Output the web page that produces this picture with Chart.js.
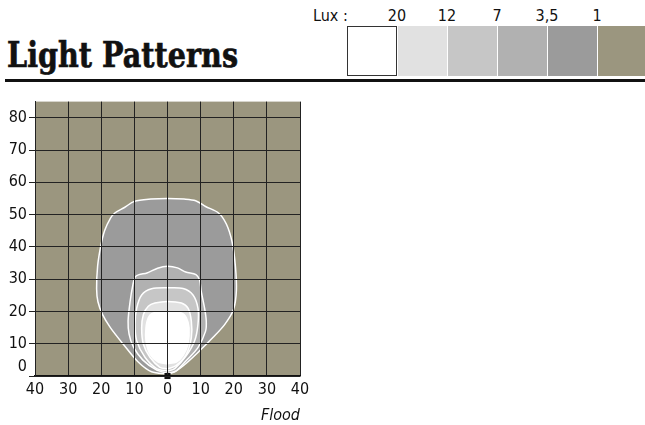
<!DOCTYPE html>
<html>
<head>
<meta charset="utf-8">
<title>Light Patterns</title>
<script src="https://cdn.jsdelivr.net/npm/chart.js@4.4.1/dist/chart.umd.min.js"></script>
<style>
  html, body { margin: 0; padding: 0; background: #fff; }
  body { width: 645px; height: 425px; position: relative; overflow: hidden;
         font-family: "DejaVu Sans Condensed", "DejaVu Sans", sans-serif; color: #111; }
  #titulo { position: absolute; left: 7px; top: 36px; font-family: "DejaVu Serif", serif;
            font-weight: bold; font-size: 36px; line-height: 36px; white-space: nowrap;
            transform-origin: 0 0; -webkit-text-stroke: 0.7px #111; }
  #regla { position: absolute; left: 5px; top: 79px; width: 640px; height: 3px; background: #111; }
  .txt { position: absolute; top: 8px; font-size: 16px; line-height: 16px; white-space: nowrap; }
  .valor { transform: translateX(-50%); }
  .caja { position: absolute; top: 26px; height: 50px; box-sizing: border-box; }
  #grafico { position: absolute; left: 0; top: 90px; width: 320px; height: 335px; }
</style>
</head>
<body>
<div id="titulo">Light Patterns</div>
<div id="leyenda"></div>
<div id="regla"></div>
<div id="grafico"><canvas id="lightChart"></canvas></div>

<script>
// Lux levels shown in the key, brightest first
const luxLabels = ['20', '12', '7', '3,5', '1'];
const luxColors = ['#ffffff', '#e1e1e1', '#c6c6c6', '#b1b1b1', '#9b9b9b'];
const groundColor = '#9b967f';

const xTicks = [-40, -30, -20, -10, 0, 10, 20, 30, 40];
const xTickLabels = ['40', '30', '20', '10', '0', '10', '20', '30', '40'];
const yTicks = [0, 10, 20, 30, 40, 50, 60, 70, 80];
const yTickLabels = ['0', '10', '20', '30', '40', '50', '60', '70', '80'];

// Iso-lux outlines as [x, y] in metres, lamp at (0, 0)
const lux1 = [
  [0, 0.6], [-4.8, 1.3], [-9, 4.5], [-13.4, 9.9], [-17.2, 14.9], [-19.6, 19], [-21, 23],
  [-21.4, 27], [-21.1, 34], [-20.2, 40], [-19, 45], [-17.2, 48.9], [-15.9, 50.5], [-13, 52.2],
  [-10, 54.1], [-5, 54.8], [0, 55], [5, 54.8], [8.5, 54.3], [11.5, 52.5], [15.4, 50.5],
  [17.8, 47], [19.5, 41.5], [20.5, 34], [20.8, 26.5], [19.9, 20.5], [17.3, 16], [13.7, 11.9],
  [9.7, 7.8], [5.5, 3.8], [2.2, 1.3], [0, 0.6]
];
const lux3_5 = [
  [0, 0.8], [-3.5, 2], [-7.5, 5], [-10.3, 9], [-11.6, 13], [-11.9, 17], [-11.3, 23],
  [-10.5, 28], [-9.8, 30.6], [-8.6, 31.4], [-6.2, 31.9], [-3, 33.4], [0, 34], [3, 33.5],
  [5.5, 32.2], [8.6, 31.4], [9.7, 29.7], [10.2, 26.1], [11.2, 21], [11.7, 17], [11.5, 13.9],
  [9.2, 8.8], [5.7, 4.8], [2.7, 1.7], [0, 0.8]
];
const lux7 = [
  [0, 1.5], [-3.3, 2.3], [-6.8, 5.8], [-9.3, 10.9], [-9.8, 16], [-9.3, 21], [-7.8, 25.1],
  [-4.8, 27], [0, 27.3], [4.7, 27.1], [7.7, 25.1], [9.2, 21], [9.2, 16], [8.2, 10.9],
  [5.7, 6.3], [2.2, 2.3], [0, 1.5]
];
const lux12 = [
  [0, 2.2], [-2.3, 2.7], [-5.3, 5.8], [-7.3, 9.9], [-7.8, 14.9], [-7.3, 19], [-5.8, 21.6],
  [-3.8, 22.6], [0, 23.1], [4.2, 22.6], [6.2, 21], [7.2, 17], [7.2, 11.9], [5.7, 6.8],
  [2.7, 3.3], [0, 2.2]
];
const lux20 = [
  [0, 3.8], [-2.8, 4.3], [-5.3, 6.8], [-6.5, 10.9], [-6.5, 14.9], [-5.8, 18], [-4.3, 19.5],
  [0, 19.8], [4.2, 19.5], [5.7, 18], [6.5, 14.9], [6.2, 9.9], [4.7, 6.3], [2.7, 4.3], [0, 3.8]
];
const lamp = [[0, 0]];

// key: label row and colour boxes
const leyenda = document.getElementById('leyenda');
function addDiv(cls, css, text) {
  const d = document.createElement('div');
  d.className = cls;
  Object.assign(d.style, css);
  if (text) d.textContent = text;
  leyenda.appendChild(d);
}
addDiv('txt', { left: '313px' }, 'Lux :');
luxLabels.forEach((t, i) => addDiv('txt valor', { left: (397 + 50 * i) + 'px' }, t));
luxColors.concat(groundColor).forEach((c, i) => {
  const left = i === 0 ? 347 : 348 + 50 * i;
  const width = i === 5 ? 645 - left : (i === 0 ? 50 : 49);
  addDiv('caja', {
    left: left + 'px', width: width + 'px', background: c,
    border: i === 0 ? '1px solid #333' : 'none'
  });
});

// squeeze the heading to its column width
const titulo = document.getElementById('titulo');
titulo.style.transform = 'scaleX(' + (231 / titulo.getBoundingClientRect().width) + ')';

const toPoints = arr => arr.map(([x, y]) => ({ x, y }));

function contour(points, color) {
  return {
    data: toPoints(points),
    showLine: true,
    fill: 'shape',
    backgroundColor: color,
    borderColor: '#ffffff',
    borderWidth: 1.5,
    tension: 0.3,
    pointRadius: 0
  };
}

const groundFill = {
  id: 'groundFill',
  beforeDraw(chart) {
    const { ctx, chartArea: a } = chart;
    ctx.save();
    ctx.fillStyle = groundColor;
    ctx.fillRect(a.left, a.top, a.right - a.left, a.bottom - a.top);
    ctx.restore();
  }
};

Chart.defaults.font.family = '"DejaVu Sans Condensed", "DejaVu Sans", sans-serif';
Chart.defaults.font.size = 16;
Chart.defaults.color = '#111';

new Chart(document.getElementById('lightChart'), {
  type: 'scatter',
  data: {
    datasets: [
      {
        data: toPoints(lamp),
        pointStyle: 'rect',
        pointRadius: 4.3,
        backgroundColor: '#111',
        borderWidth: 0,
        clip: false
      },
      contour(lux20, luxColors[0]),
      contour(lux12, luxColors[1]),
      contour(lux7, luxColors[2]),
      contour(lux3_5, luxColors[3]),
      contour(lux1, luxColors[4])
    ]
  },
  options: {
    responsive: true,
    maintainAspectRatio: false,
    animation: false,
    events: [],
    layout: { padding: { top: 7, right: 20, left: 0, bottom: 0 } },
    plugins: {
      legend: { display: false },
      tooltip: { enabled: false }
    },
    scales: {
      x: {
        type: 'linear',
        min: -40,
        max: 40,
        afterBuildTicks: scale => { scale.ticks = xTicks.map(v => ({ value: v })); },
        afterFit: scale => { scale.height = 49; },
        ticks: {
          padding: 4,
          maxRotation: 0,
          autoSkip: false,
          callback: (v, i) => xTickLabels[i]
        },
        grid: { color: '#222', lineWidth: 1, drawTicks: false, z: 1 },
        border: { display: true, color: '#111', width: 1.5, z: 1 },
        title: {
          display: true,
          text: 'Flood',
          align: 'end',
          font: { style: 'italic', size: 16 },
          padding: { top: 0, bottom: 0 }
        }
      },
      y: {
        type: 'linear',
        min: 0,
        max: 85,
        afterBuildTicks: scale => { scale.ticks = yTicks.map(v => ({ value: v })); },
        afterFit: scale => { scale.width = 35; },
        ticks: {
          padding: 2,
          autoSkip: false,
          callback: (v, i) => (v === 0 ? [yTickLabels[i], ''] : yTickLabels[i])
        },
        grid: { color: '#222', lineWidth: 1, tickLength: 6, z: 1 },
        border: { display: true, color: '#222', width: 1, z: 1 }
      }
    }
  },
  plugins: [groundFill]
});
</script>
</body>
</html>
